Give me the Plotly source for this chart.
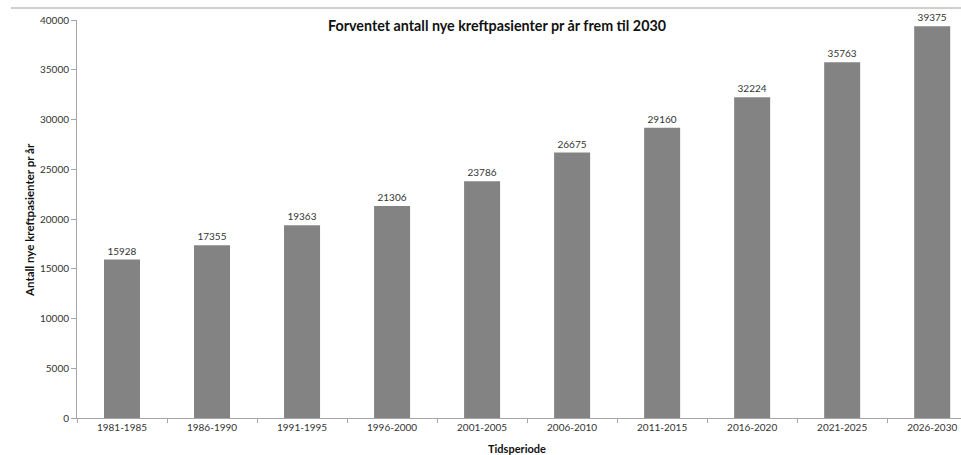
import plotly.graph_objects as go

categories = ["1981-1985", "1986-1990", "1991-1995", "1996-2000", "2001-2005",
              "2006-2010", "2011-2015", "2016-2020", "2021-2025", "2026-2030"]
values = [15928, 17355, 19363, 21306, 23786, 26675, 29160, 32224, 35763, 39375]
y_ticks = [0, 5000, 10000, 15000, 20000, 25000, 30000, 35000, 40000]

title_text = "Forventet antall nye kreftpasienter pr år frem til 2030"
y_title = "Antall nye kreftpasienter pr år"
x_title = "Tidsperiode"

W, H = 961, 455
font_fam = "Lato, 'Open Sans', Arial, sans-serif"

fig = go.Figure()
fig.add_trace(go.Bar(
    x=categories, y=values,
    marker=dict(color="#838383", line=dict(width=0)),
    text=[str(v) for v in values],
    textposition="outside",
    textfont=dict(size=10, color="#333333", family=font_fam),
    cliponaxis=False,
    width=0.4,
))

fig.update_layout(
    width=W, height=H,
    margin=dict(l=77, r=0, t=20, b=37),
    plot_bgcolor="white", paper_bgcolor="white",
    showlegend=False,
    font=dict(family=font_fam, color="#333333"),
    xaxis=dict(
        type="category", range=[-0.5, 9.32],
        showline=True, linecolor="#a6a6a6", linewidth=1,
        ticks="outside", tickson="boundaries", ticklen=4, tickcolor="#a6a6a6",
        tickfont=dict(size=10, color="#333333"),
        showgrid=False, zeroline=False,
    ),
    yaxis=dict(
        range=[0, 40000], tickvals=y_ticks, ticktext=[str(v) for v in y_ticks],
        showline=True, linecolor="#a6a6a6", linewidth=1,
        ticks="outside", ticklen=5, tickcolor="#a6a6a6",
        tickfont=dict(size=10, color="#333333"),
        showgrid=False, zeroline=False,
    ),
    shapes=[dict(type="line", xref="paper", yref="paper",
                 x0=-66/884, x1=1.0, y0=1 + 12/398, y1=1 + 12/398,
                 line=dict(color="#cfcfcf", width=2))],
    annotations=[
        dict(text=f"<b>{title_text}</b>", xref="paper", yref="paper",
             x=(497 - 77) / 884, y=1 - 6 / 398, xanchor="center", yanchor="middle",
             showarrow=False, font=dict(size=14.3, color="#111111")),
        dict(text=f"<b>{y_title}</b>", xref="paper", yref="paper",
             x=(30 - 77) / 884, y=(418 - 220) / 398, xanchor="center", yanchor="middle",
             textangle=-90, showarrow=False, font=dict(size=11.5, color="#111111")),
        dict(text=f"<b>{x_title}</b>", xref="paper", yref="paper",
             x=(517 - 77) / 884, y=-(448 - 418) / 398, xanchor="center", yanchor="middle",
             showarrow=False, font=dict(size=11, color="#111111")),
    ],
)

fig.write_html("out.html")
